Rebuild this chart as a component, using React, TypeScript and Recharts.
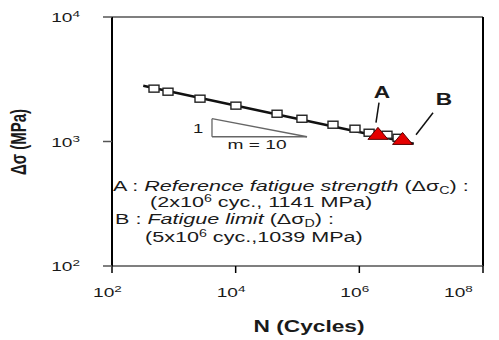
import React from 'react';
import { ScatterChart, Scatter, XAxis, YAxis, ReferenceLine } from 'recharts';

// test points (N, stress range)
const testN = [478, 805, 2650, 10100, 46700, 118000, 375000, 851000, 1440000, 2800000, 4230000];
const testS = [2658, 2512, 2208, 1941, 1671, 1523, 1364, 1267, 1176, 1133, 1071];

// fitted S-N line end points
const fitN = [320, 7600000];
const fitS = [2800, 960];

// A = reference fatigue strength, B = fatigue limit
const keyLabels = ['A', 'B'];
const keyN = [2000000, 5000000];
const keyS = [1141, 1039];

// slope triangle corners (m = 10)
const slopeN = [4140, 4140, 142600];
const slopeS = [1524, 1092, 1092];

// leader lines from A / B labels to points
const leaderA = [[2080000, 2051], [1860000, 1416]];
const leaderB = [[15560000, 1702], [8260000, 1133]];

const xTicks = [100, 10000, 1000000, 100000000];
const yTicks = [100, 1000, 10000];

const testData = testN.map((n, i) => ({ N: n, S: testS[i] }));
const fitData = fitN.map((n, i) => ({ N: n, S: fitS[i] }));
const keyData = keyN.map((n, i) => ({ N: n, S: keyS[i], name: keyLabels[i] }));

const FONT = '"Liberation Sans", Arial, sans-serif';
const SX = 1.42; // the original is stretched sideways
const INK = '#1a1a1a';

const exp = (v: number) => Math.round(Math.log10(v));

const YTick = (props: any) => {
  const { x, y, payload } = props;
  return (
    <text transform={`translate(${x - 23} ${y + 5}) scale(${SX} 1)`} textAnchor="end"
      fontFamily={FONT} fontSize={13.5} fill={INK}>
      10<tspan dy={-5} fontSize={9.5}>{exp(payload.value)}</tspan>
    </text>
  );
};

const XTick = (props: any) => {
  const { x, y, payload } = props;
  return (
    <text transform={`translate(${x - 19} ${y + 24}) scale(${SX} 1)`} textAnchor="start"
      fontFamily={FONT} fontSize={13.5} fill={INK}>
      10<tspan dy={-5} fontSize={9.5}>{exp(payload.value)}</tspan>
    </text>
  );
};

const Square = (props: any) => {
  const { cx, cy } = props;
  return <rect x={cx - 5} y={cy - 3.5} width={10} height={7} fill="#fff" stroke="#222" strokeWidth={1.4} />;
};

const Tri = (props: any) => {
  const { cx, cy } = props;
  return (
    <polygon points={`${cx},${cy - 7} ${cx + 10},${cy + 5} ${cx - 10},${cy + 5}`}
      fill="#e50000" stroke="#5a0000" strokeWidth={1} />
  );
};

const Nothing = () => <g />;

const T = ({ x, y, size = 15.2, weight = 'normal', anchor = 'start', children }: any) => (
  <text transform={`translate(${x} ${y}) scale(${SX} 1)`} fontFamily={FONT} fontSize={size}
    fontWeight={weight} textAnchor={anchor} fill={INK}>
    {children}
  </text>
);

export default function App() {
  return (
    <div style={{ position: 'absolute', left: 0, top: 0, width: 499, height: 340, background: '#fff' }}>
      <ScatterChart width={499} height={340} margin={{ top: 17, right: 16, left: 0, bottom: 0 }}>
        <XAxis type="number" dataKey="N" scale="log" domain={[100, 100000000]} ticks={xTicks}
          allowDataOverflow height={74} tickSize={7} tickMargin={0} tick={<XTick />}
          axisLine={{ stroke: '#555', strokeWidth: 1.5 }} tickLine={{ stroke: '#000', strokeWidth: 1.5 }} />
        <YAxis type="number" dataKey="S" scale="log" domain={[100, 10000]} ticks={yTicks}
          allowDataOverflow width={112} tickSize={9} tickMargin={0} tick={<YTick />}
          axisLine={{ stroke: '#000', strokeWidth: 2 }} tickLine={{ stroke: '#555', strokeWidth: 1.5 }} />
        <ReferenceLine y={10000} stroke="#555" strokeWidth={1.5} />
        <ReferenceLine x={100000000} stroke="#000" strokeWidth={2} />
        <ReferenceLine segment={[{ x: slopeN[0], y: slopeS[0] }, { x: slopeN[1], y: slopeS[1] }]} stroke="#666" strokeWidth={1.3} />
        <ReferenceLine segment={[{ x: slopeN[1], y: slopeS[1] }, { x: slopeN[2], y: slopeS[2] }]} stroke="#666" strokeWidth={1.3} />
        <ReferenceLine segment={[{ x: slopeN[0], y: slopeS[0] }, { x: slopeN[2], y: slopeS[2] }]} stroke="#666" strokeWidth={1.3} />
        <ReferenceLine segment={[{ x: leaderA[0][0], y: leaderA[0][1] }, { x: leaderA[1][0], y: leaderA[1][1] }]} stroke="#111" strokeWidth={1.5} />
        <ReferenceLine segment={[{ x: leaderB[0][0], y: leaderB[0][1] }, { x: leaderB[1][0], y: leaderB[1][1] }]} stroke="#111" strokeWidth={1.5} />
        <Scatter data={fitData} line={{ stroke: '#111', strokeWidth: 2.5 }} shape={<Nothing />} isAnimationActive={false} />
        <Scatter data={testData} shape={<Square />} isAnimationActive={false} />
        <Scatter data={keyData} shape={<Tri />} isAnimationActive={false} />
      </ScatterChart>
      <svg width={499} height={340} style={{ position: 'absolute', left: 0, top: 0, pointerEvents: 'none' }}>
        <T x={382} y={98} size={16} weight="bold" anchor="middle">{keyLabels[0]}</T>
        <T x={444} y={105} size={16} weight="bold" anchor="middle">{keyLabels[1]}</T>
        <T x={193} y={133} size={13}>1</T>
        <T x={257} y={149} size={13.5} anchor="middle">m = 10</T>
        <T x={113} y={191}>
          A : <tspan fontStyle="italic">Reference fatigue strength</tspan> (Δσ<tspan dy={3} fontSize={10}>C</tspan><tspan dy={-3}>) :</tspan>
        </T>
        <T x={150} y={207}>
          (2x10<tspan dy={-5} fontSize={10}>6</tspan><tspan dy={5}> cyc., 1141 MPa)</tspan>
        </T>
        <T x={115} y={224}>
          B : <tspan fontStyle="italic">Fatigue limit</tspan> (Δσ<tspan dy={3} fontSize={10}>D</tspan><tspan dy={-3}>) :</tspan>
        </T>
        <T x={145} y={242}>
          (5x10<tspan dy={-5} fontSize={10}>6</tspan><tspan dy={5}> cyc.,1039 MPa)</tspan>
        </T>
        <T x={309} y={332} size={16} weight="bold" anchor="middle">N (Cycles)</T>
        <text transform={`translate(26 142) scale(${SX} 1) rotate(-90)`} textAnchor="middle"
          fontFamily={FONT} fontSize={15} fontWeight="bold" fill={INK}>Δσ (MPa)</text>
      </svg>
    </div>
  );
}
